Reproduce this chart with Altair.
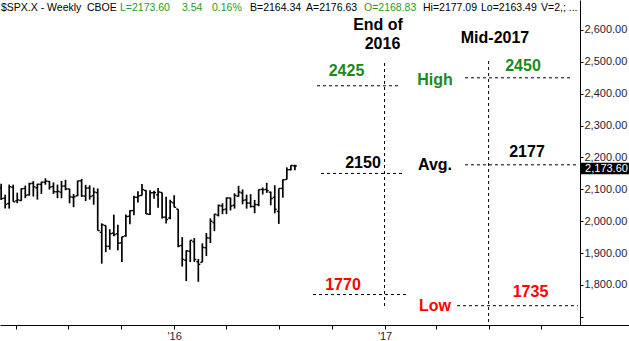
import altair as alt
import pandas as pd

# ---------------- data ----------------
week_dates = pd.date_range("2015-03-06", periods=74, freq="W-FRI")

opens = [2105.2, 2072.3, 2055.4, 2107.0, 2064.1, 2064.9, 2102.8, 2082.8, 2119.3, 2104.9,
         2115.6, 2122.0, 2125.0, 2108.6, 2092.3, 2091.3, 2110.6, 2101.5, 2075.0, 2080.0,
         2126.6, 2079.0, 2104.5, 2080.0, 2089.7, 1965.2, 1986.7, 1921.3, 1963.0, 1960.8,
         1932.2, 1954.0, 2015.7, 2033.5, 2075.0, 2080.8, 2096.6, 2022.0, 2089.4, 2082.9,
         2090.4, 2013.0, 2010.3, 2057.8,
         2038.2, 1924.0, 1878.0, 1906.0, 1936.0, 1873.0, 1871.0, 1917.0, 1947.0, 1996.0,
         2019.3, 2048.0, 2037.9, 2073.0, 2050.0, 2078.8, 2089.0, 2067.0, 2057.0, 2046.0,
         2052.0, 2100.0, 2100.0, 2091.0, 2075.0, 2031.0, 2103.0, 2131.0, 2162.0, 2173.7]
highs = [2117.5, 2083.5, 2114.9, 2114.9, 2089.8, 2103.0, 2111.9, 2120.9, 2125.9, 2117.7,
         2123.9, 2134.7, 2126.2, 2121.9, 2115.0, 2126.6, 2130.0, 2102.0, 2085.7, 2127.0,
         2132.8, 2114.2, 2112.7, 2105.4, 2102.9, 1993.5, 1987.0, 1975.0, 2020.9, 1989.0,
         1951.5, 2020.9, 2034.3, 2079.7, 2094.3, 2116.5, 2097.9, 2097.0, 2095.6, 2104.3,
         2090.4, 2076.7, 2067.4, 2081.6,
         2038.2, 1950.3, 1908.9, 1940.2, 1947.2, 1881.6, 1930.7, 1963.0, 2009.1, 2022.4,
         2052.4, 2056.6, 2075.0, 2074.0, 2087.8, 2111.1, 2099.9, 2083.4, 2084.9, 2067.0,
         2100.0, 2105.9, 2120.6, 2093.0, 2113.0, 2103.0, 2131.7, 2169.0, 2175.6, 2177.1]
lows = [2066.4, 2040.0, 2039.7, 2061.1, 2056.5, 2063.9, 2072.4, 2080.6, 2077.5, 2067.9,
        2085.6, 2114.8, 2099.2, 2085.7, 2072.5, 2072.1, 2097.0, 2056.3, 2044.0, 2078.5,
        2076.5, 2063.5, 2067.9, 2052.0, 1970.9, 1867.0, 1903.1, 1910.7, 1953.1, 1908.8,
        1871.9, 1951.3, 1990.7, 2018.9, 2058.8, 2080.8, 2022.6, 2019.4, 2070.3, 2042.4,
        2008.3, 1993.3, 2005.9, 2043.6,
        1918.5, 1857.8, 1812.3, 1872.0, 1872.6, 1810.1, 1871.4, 1891.0, 1931.8, 1969.0,
        2015.0, 2022.0, 2022.5, 2033.8, 2039.7, 2077.0, 2053.0, 2039.5, 2043.1, 2025.0,
        2047.0, 2084.0, 2089.0, 2050.0, 2025.0, 1991.7, 2074.0, 2131.0, 2159.0, 2159.8]
closes = [2071.3, 2053.4, 2108.1, 2061.0, 2067.0, 2102.1, 2081.2, 2117.7, 2108.3, 2116.1,
          2122.7, 2126.1, 2107.4, 2092.8, 2094.1, 2110.0, 2101.5, 2076.8, 2076.6, 2126.6,
          2079.7, 2103.8, 2077.6, 2091.5, 1970.9, 1988.9, 1921.2, 1961.0, 1958.0, 1931.3,
          1951.4, 2014.9, 2033.1, 2075.2, 2079.4, 2099.2, 2023.0, 2089.2, 2090.1, 2091.7,
          2012.4, 2005.6, 2061.0, 2043.9,
          1922.0, 1880.3, 1906.9, 1940.2, 1880.0, 1864.8, 1917.8, 1948.0, 2000.0, 2022.2,
          2049.6, 2035.9, 2072.8, 2047.6, 2080.7, 2091.6, 2065.3, 2057.1, 2046.6, 2052.3,
          2099.1, 2099.1, 2096.0, 2071.2, 2037.4, 2103.0, 2129.9, 2161.7, 2175.0, 2173.6]

end2016_levels = [2425, 2150, 1770]
mid2017_levels = [2450, 2177, 1735]
level_names = ["High", "Avg.", "Low"]
level_colors = ["#1b8a1b", "#000000", "#ff0000"]
last_price = 2173.60
y_ticks = [1700, 1800, 1900, 2000, 2100, 2200, 2300, 2400, 2500, 2600]

FONT = "Liberation Sans"
GREEN_HDR = "#1f9a1f"

df = pd.DataFrame({"date": week_dates, "open": opens, "high": highs,
                   "low": lows, "close": closes})
df["date_l"] = df["date"] - pd.Timedelta(days=3.5)
df["date_r"] = df["date"] + pd.Timedelta(days=3.5)

xs = alt.Scale(domain=[alt.DateTime(year=2015, month=3, date=4),
                       alt.DateTime(year=2017, month=12, date=7)])
ys = alt.Scale(domain=[1674.5, 2694.1], nice=False, zero=False)

quarters = [alt.DateTime(year=y, month=m, date=1)
            for y, m in [(2015, 4), (2015, 7), (2015, 10), (2016, 1), (2016, 4), (2016, 7),
                         (2016, 10), (2017, 1), (2017, 4), (2017, 7), (2017, 10)]]

X_AXIS = alt.Axis(values=quarters, title=None, grid=False, tickSize=4, labelPadding=1,
                  labelExpr="month(datum.value) == 0 ? \"'\" + timeFormat(datum.value, '%y') : ''",
                  labelOverlap=False, labelColor="#2a1a3a", domainColor="black",
                  tickColor="black", labelFont=FONT, labelFontSize=11, orient="bottom")
Y_AXIS = alt.Axis(orient="right", values=y_ticks, title=None, grid=False, tickSize=3,
                  labelPadding=1,
                  labelExpr="datum.value < 1750 ? '' : format(datum.value, ',.2f')",
                  labelColor="#1c1c3a", domainColor="black", tickColor="black",
                  labelFont=FONT, labelFontSize=11)


def X(field):
    return alt.X(field, scale=xs, axis=X_AXIS)


def Y(field):
    return alt.Y(field, scale=ys, axis=Y_AXIS)


base = alt.Chart(df)
hl = base.mark_rule(color="black", strokeWidth=1.7).encode(
    x=X("date:T"), y=Y("low:Q"), y2="high:Q")
op = base.mark_rule(color="black", strokeWidth=1.4).encode(
    x=X("date_l:T"), x2="date:T", y=Y("open:Q"))
cl = base.mark_rule(color="black", strokeWidth=1.4).encode(
    x=X("date:T"), x2="date_r:T", y=Y("close:Q"))

layers = [hl, op, cl]

one = pd.DataFrame({"k": [0]})


def hline(value, x1, x2):
    return alt.Chart(pd.DataFrame({"v": [value]})).mark_rule(
        color="black", strokeWidth=1, strokeDash=[3, 3]).encode(
        x=alt.value(x1), x2=alt.value(x2), y=Y("v:Q"))


def num_text(value, x, dy, color):
    return alt.Chart(pd.DataFrame({"v": [value]})).mark_text(
        font=FONT, fontSize=16, fontWeight="bold", color=color, align="center",
        baseline="alphabetic", dy=dy).encode(
        x=alt.value(x), y=Y("v:Q"), text="v:N")


def label(txt, x, y, color, size=16, align="center", weight="bold"):
    return alt.Chart(one).mark_text(
        text=txt, font=FONT, fontSize=size, fontWeight=weight, color=color,
        align=align, baseline="alphabetic").encode(x=alt.value(x), y=alt.value(y))


# End of 2016 targets
e_lines = [(317, 398), (321, 402), (313, 406)]
e_text = [(346.5, -9.3), (363, -5.5), (343, -4.8)]
for v, (a, b), (tx, dy), c in zip(end2016_levels, e_lines, e_text, level_colors):
    layers.append(hline(v, a, b))
    layers.append(num_text(v, tx, dy, c))

# Mid-2017 targets
m_lines = [(465, 570), (465, 576), (457, 578)]
m_text = [(523, -7), (527, -7.4), (530.5, -8.5)]
for v, (a, b), (tx, dy), c in zip(mid2017_levels, m_lines, m_text, level_colors):
    layers.append(hline(v, a, b))
    layers.append(num_text(v, tx, dy, c))

# level names
for name, yy, c in zip(level_names, [85, 169.5, 310.5], level_colors):
    layers.append(label(name, 435, yy, c))

# vertical horizon lines
layers.append(alt.Chart(pd.DataFrame({"d": [pd.Timestamp("2017-01-01")]})).mark_rule(
    color="black", strokeWidth=1, strokeDash=[3, 3]).encode(
    x=X("d:T"), y=alt.value(63), y2=alt.value(307)))
layers.append(alt.Chart(pd.DataFrame({"d": [pd.Timestamp("2017-07-01")]})).mark_rule(
    color="black", strokeWidth=1, strokeDash=[3, 3]).encode(
    x=X("d:T"), y=alt.value(61), y2=alt.value(325)))

# horizon titles
layers.append(label("End of", 378, 30, "black"))
layers.append(label("2016", 382.5, 49, "black"))
layers.append(label("Mid-2017", 495, 42.5, "black"))

# header
hdr = [("$SPX.X - Weekly", 1, "black"), ("CBOE", 87, "black"),
       ("L=2173.60", 120, GREEN_HDR), ("3.54", 182, GREEN_HDR), ("0.16%", 212, GREEN_HDR),
       ("B=2164.34", 250, "black"), ("A=2176.63", 306, "black"),
       ("O=2168.83", 364, GREEN_HDR), ("Hi=2177.09", 423, "black"),
       ("Lo=2163.49", 481, "black"), ("V=2,; ...", 541, "black")]
for t, x, c in hdr:
    layers.append(label(t, x, 11, c, size=10.5, align="left", weight="normal"))

# bottom axis line extension to the right edge
layers.append(alt.Chart(one).mark_rule(color="black", strokeWidth=1).encode(
    x=alt.value(580), x2=alt.value(629), y=alt.value(325.5)))

# last price tag
tag = pd.DataFrame({"p": [last_price]})
layers.append(alt.Chart(tag).transform_calculate(
    top="datum.p + 10", bot="datum.p - 26").mark_rect(color="black").encode(
    x=alt.value(581), x2=alt.value(629), y=Y("top:Q"), y2="bot:Q"))
layers.append(alt.Chart(tag).mark_text(
    font=FONT, fontSize=11, color="white", align="center", baseline="alphabetic",
    dy=6).encode(
    x=alt.value(606.5), y=Y("p:Q"), text=alt.Text("p:Q", format=",.2f")))

chart = alt.layer(*layers).properties(
    width=580, height=325, autosize="none",
    padding={"left": 0, "top": 0, "right": 49, "bottom": 16},
    background="white",
).configure_view(stroke=None)

chart.save("out.html", embed_options={"renderer": "svg", "actions": False})
